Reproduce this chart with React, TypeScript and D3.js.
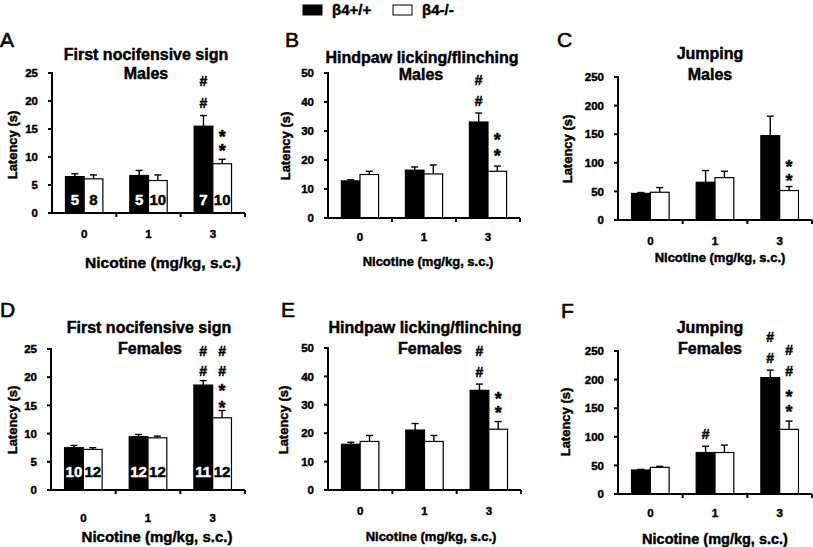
import React from 'react';
import * as d3 from 'd3';

// doses on the x axis
const doses = ['0', '1', '3'];
const groups = ['wt', 'ko'];

// A - first nocifensive sign, males
const aWT = [6.5, 6.7, 15.5];
const aWTErr = [0.5, 0.9, 1.9];
const aKO = [6.1, 5.8, 8.8];
const aKOErr = [0.7, 1.0, 0.8];
const aNWT = ['5', '5', '7'];
const aNKO = ['8', '10', '10'];

// B - hindpaw licking/flinching, males
const bWT = [12.8, 16.5, 33.1];
const bWTErr = [0.4, 1.1, 3.1];
const bKO = [15.0, 15.2, 16.1];
const bKOErr = [1.1, 3.1, 1.8];

// C - jumping, males
const cWT = [46.5, 66, 147.5];
const cWTErr = [1.5, 20.5, 34];
const cKO = [48.5, 74, 51.5];
const cKOErr = [8.2, 11.2, 7];

// D - first nocifensive sign, females
const dWT = [7.5, 9.45, 18.6];
const dWTErr = [0.4, 0.4, 0.8];
const dKO = [7.2, 9.25, 12.8];
const dKOErr = [0.3, 0.3, 1.3];
const dNWT = ['10', '12', '11'];
const dNKO = ['12', '12', '12'];

// E - hindpaw licking/flinching, females
const eWT = [16.1, 21.1, 35.1];
const eWTErr = [0.7, 2.3, 2.2];
const eKO = [17.1, 17.1, 21.4];
const eKOErr = [2.1, 2.1, 2.7];

// F - jumping, females
const fWT = [42, 72.5, 203.5];
const fWTErr = [1, 11, 13];
const fKO = [46.5, 72.5, 113];
const fKOErr = [2, 13, 14.5];

// significance marks: dose, genotype, symbol, levels (top first) of the stacked symbols
const aMarks = [
  ['3', 'wt', '#', [23.8, 20.2]],
  ['3', 'ko', '*', [14.3, 12.1]],
];
const bMarks = [
  ['3', 'wt', '#', [48, 41.4]],
  ['3', 'ko', '*', [28.2, 23.6]],
];
const cMarks = [['3', 'ko', '*', [99, 78]]];
const dMarks = [
  ['3', 'wt', '#', [24.8, 21.6]],
  ['3', 'ko', '#', [24.8, 21.6]],
  ['3', 'ko', '*', [18.2, 15.7]],
];
const eMarks = [
  ['3', 'wt', '#', [49.4, 42.7]],
  ['3', 'ko', '*', [33.5, 29.2]],
];
const fMarks = [
  ['1', 'wt', '#', [106]],
  ['3', 'wt', '#', [276, 243]],
  ['3', 'ko', '#', [253, 220]],
  ['3', 'ko', '*', [177, 154]],
];

const FONT = '"Liberation Sans", Arial, Helvetica, sans-serif';

const panels = [
  {
    letter: 'A', title: 'First nocifensive sign', sub: 'Males', max: 25,
    wt: aWT, wtErr: aWTErr, ko: aKO, koErr: aKOErr, nWT: aNWT, nKO: aNKO, marks: aMarks,
    x0: 52, x1: 245, yTop: 73, yZero: 213,
    lx: 0, ly: 47, tx: 146, ty: 60, sx: 146, sy: 79,
    ylx: 17, yly: 145, tickY: 238, xtx: 163, xty: 268, xts: 15.5, nOff: 8,
  },
  {
    letter: 'B', title: 'Hindpaw licking/flinching', sub: 'Males', max: 50,
    wt: bWT, wtErr: bWTErr, ko: bKO, koErr: bKOErr, marks: bMarks,
    x0: 328, x1: 520, yTop: 73, yZero: 218,
    lx: 285, ly: 47, tx: 422, ty: 63, sx: 421, sy: 80,
    ylx: 290, yly: 146, tickY: 241, xtx: 428, xty: 266, xts: 13,
  },
  {
    letter: 'C', title: 'Jumping', sub: 'Males', max: 250,
    wt: cWT, wtErr: cWTErr, ko: cKO, koErr: cKOErr, marks: cMarks,
    x0: 618, x1: 812, yTop: 77, yZero: 220,
    lx: 557, ly: 47, tx: 710, ty: 59, sx: 710, sy: 80,
    ylx: 572, yly: 149, tickY: 245, xtx: 720, xty: 262, xts: 13,
  },
  {
    letter: 'D', title: 'First nocifensive sign', sub: 'Females', max: 25,
    wt: dWT, wtErr: dWTErr, ko: dKO, koErr: dKOErr, nWT: dNWT, nKO: dNKO, marks: dMarks,
    x0: 51, x1: 245, yTop: 349, yZero: 490,
    lx: 0, ly: 317, tx: 149, ty: 333, sx: 150, sy: 354,
    ylx: 17, yly: 420, tickY: 522, xtx: 157, xty: 542, xts: 15,
    nOff: 13,
  },
  {
    letter: 'E', title: 'Hindpaw licking/flinching', sub: 'Females', max: 50,
    wt: eWT, wtErr: eWTErr, ko: eKO, koErr: eKOErr, marks: eMarks,
    x0: 328, x1: 521, yTop: 348, yZero: 490,
    lx: 281, ly: 317, tx: 425, ty: 333, sx: 430, sy: 354,
    ylx: 288, yly: 420, tickY: 515, xtx: 431, xty: 541, xts: 13,
  },
  {
    letter: 'F', title: 'Jumping', sub: 'Females', max: 250,
    wt: fWT, wtErr: fWTErr, ko: fKO, koErr: fKOErr, marks: fMarks,
    x0: 618, x1: 812, yTop: 351, yZero: 494,
    lx: 561, ly: 318, tx: 710, ty: 333, sx: 710, sy: 354,
    ylx: 570, yly: 422, tickY: 517, xtx: 715, xty: 544, xts: 14.5,
  },
];

// heavier strokes to mimic the thick print font of the figure
const heavy = { stroke: '#000', strokeWidth: 0.45, paintOrder: 'stroke' } as any;

function Panel({ p }: { p: any }) {
  const y = d3.scaleLinear().domain([0, p.max]).range([p.yZero, p.yTop]);
  const x = d3.scaleBand().domain(doses).range([p.x0, p.x1]);
  const g = d3.scaleBand().domain(groups).range([0, x.bandwidth()]).paddingOuter(0.72).paddingInner(0);
  const bw = g.bandwidth();

  const series = [
    { key: 'wt', vals: p.wt, errs: p.wtErr, fill: '#000', n: p.nWT, nFill: '#fff' },
    { key: 'ko', vals: p.ko, errs: p.koErr, fill: '#fff', n: p.nKO, nFill: '#000' },
  ];

  return (
    <g fontFamily={FONT} fontWeight="bold">
      <text x={p.lx} y={p.ly} fontSize={21} fontWeight="normal" stroke="#000" strokeWidth={0.6}>{p.letter}</text>
      <text x={p.tx} y={p.ty} fontSize={16} textAnchor="middle" {...heavy}>{p.title}</text>
      <text x={p.sx} y={p.sy} fontSize={16} textAnchor="middle" {...heavy}>{p.sub}</text>
      <text transform={`translate(${p.ylx},${p.yly}) rotate(-90)`} fontSize={13} textAnchor="middle" {...heavy}>Latency (s)</text>

      {series.map(s =>
        doses.map((d, i) => {
          const bx = (x(d) || 0) + (g(s.key) || 0);
          const top = y(s.vals[i]);
          const cap = y(s.vals[i] + s.errs[i]);
          const cx = bx + bw / 2;
          return (
            <g key={s.key + d}>
              <line x1={cx} x2={cx} y1={top} y2={cap} stroke="#000" strokeWidth={1.4} />
              <line x1={cx - 3.5} x2={cx + 3.5} y1={cap} y2={cap} stroke="#000" strokeWidth={1.4} />
              <rect x={bx} y={top} width={bw} height={p.yZero - top} fill={s.fill} stroke="#000" strokeWidth={1.2} />
              {s.n && (
                <text x={cx} y={p.yZero - p.nOff} fontSize={15} textAnchor="middle" fill={s.nFill}
                  stroke={s.nFill} strokeWidth={0.45}>{s.n[i]}</text>
              )}
            </g>
          );
        })
      )}

      {/* stacked significance symbols, written top to bottom as one vertical text */}
      {p.marks.map((m: any[], i: number) => {
        const cx = (x(m[0]) || 0) + (g(m[1]) || 0) + bw / 2;
        const star = m[2] === '*';
        const fs = star ? 18 : 14;
        const lv: number[] = m[3];
        const gap = lv.length > 1 ? y(lv[1]) - y(lv[0]) : fs;
        const top = y(lv[0]) - (star ? 0.33 : 0.5) * fs;
        return (
          <text key={'m' + i} x={cx} y={top} fontSize={fs} letterSpacing={gap - fs}
            style={{ writingMode: 'vertical-rl', textOrientation: 'upright' } as any} {...heavy}>
            {m[2].repeat(lv.length)}
          </text>
        );
      })}

      {/* y axis */}
      <line x1={p.x0} x2={p.x0} y1={p.yTop - 1} y2={p.yZero + 1} stroke="#000" strokeWidth={2} />
      {y.ticks(5).map(t => (
        <g key={'yt' + t}>
          <line x1={p.x0 - 4} x2={p.x0} y1={y(t)} y2={y(t)} stroke="#000" strokeWidth={2} />
          <text x={p.x0 - 14} y={y(t)} dy="0.36em" fontSize={11.5} textAnchor="end" {...heavy}>{t}</text>
        </g>
      ))}

      {/* x axis */}
      <line x1={p.x0} x2={p.x1} y1={p.yZero} y2={p.yZero} stroke="#000" strokeWidth={2} />
      {doses.map(d => (
        <g key={'xt' + d}>
          <line x1={(x(d) || 0) + x.bandwidth()} x2={(x(d) || 0) + x.bandwidth()} y1={p.yZero} y2={p.yZero + 4} stroke="#000" strokeWidth={2} />
          <text x={(x(d) || 0) + x.bandwidth() / 2} y={p.tickY} fontSize={11.5} textAnchor="middle" {...heavy}>{d}</text>
        </g>
      ))}
      <text x={p.xtx} y={p.xty} fontSize={p.xts} textAnchor="middle" {...heavy}>Nicotine (mg/kg, s.c.)</text>
    </g>
  );
}

export default function App() {
  return (
    <svg width={813} height={547} style={{ position: 'absolute', left: 0, top: 0, background: '#fff' }}>
      <rect width={813} height={547} fill="#fff" />
      <g fontFamily={FONT} fontWeight="bold">
        <rect x={303} y={5} width={19} height={10} fill="#000" stroke="#000" strokeWidth={1} />
        <text x={332} y={15} fontSize={15} {...heavy}>β4+/+</text>
        <rect x={393} y={5} width={19} height={10} fill="#fff" stroke="#000" strokeWidth={1} />
        <text x={422} y={15} fontSize={15} {...heavy}>β4-/-</text>
      </g>
      {panels.map(p => <Panel key={p.letter} p={p} />)}
    </svg>
  );
}
